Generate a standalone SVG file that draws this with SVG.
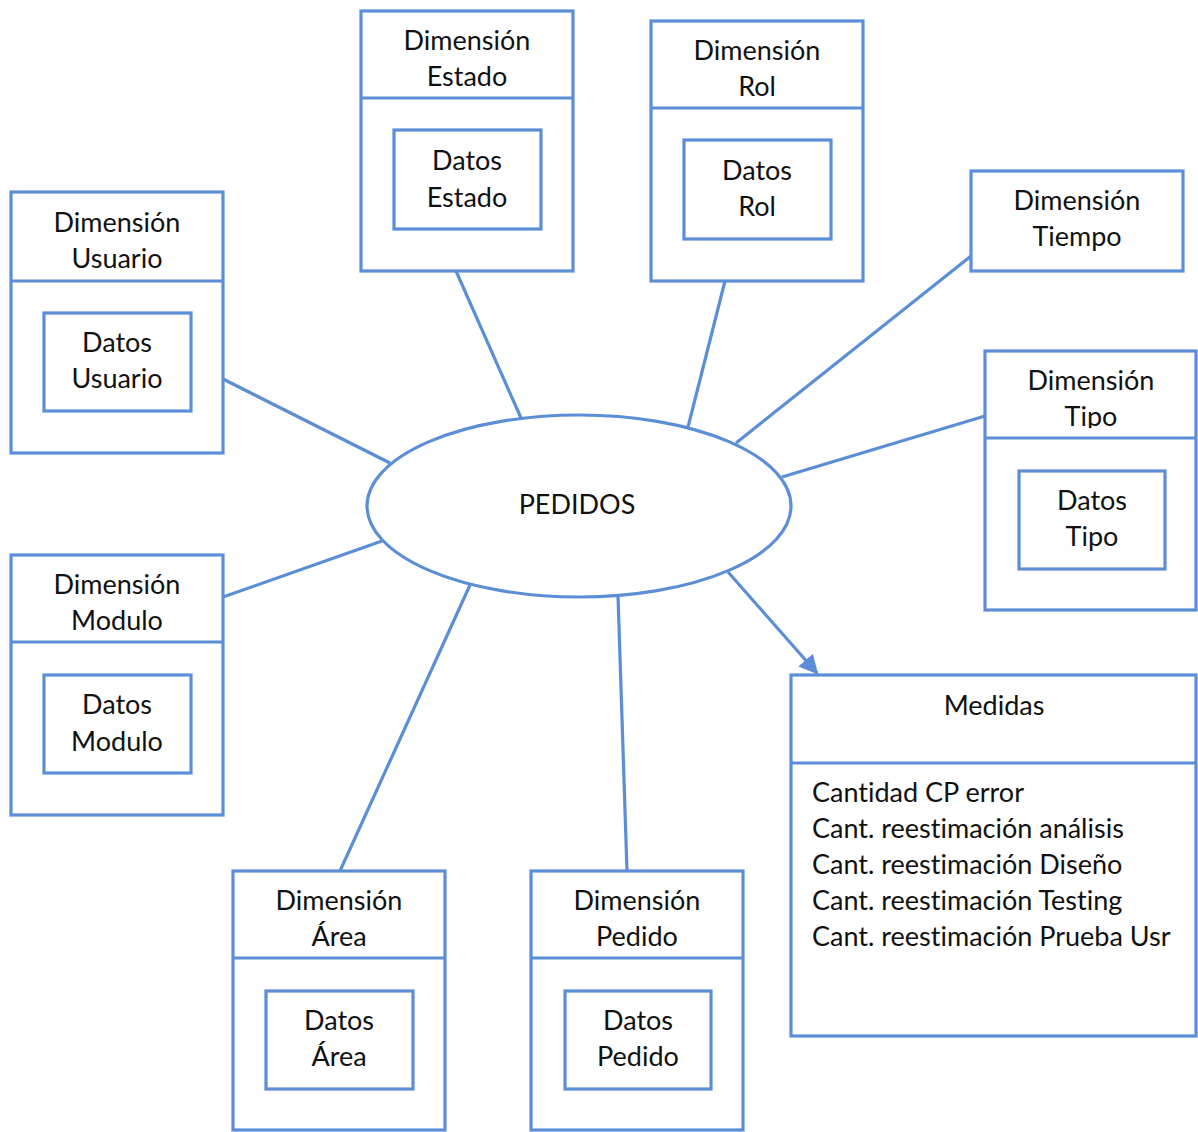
<svg xmlns="http://www.w3.org/2000/svg" width="1198" height="1132" viewBox="0 0 1198 1132">
<defs>
<style>
.b{fill:#fff;stroke:#5B8ED6;stroke-width:3.2}
.l{fill:none;stroke:#5B8ED6;stroke-width:3.2}
text{font-family:Lato,"Open Sans",sans-serif;font-size:27px;fill:#111;font-variant-ligatures:none}
.c{text-anchor:middle}
</style>
<marker id="ah" viewBox="0 0 10 10" refX="9" refY="5" markerWidth="6" markerHeight="6" orient="auto" markerUnits="strokeWidth">
<path d="M0,0L10,5L0,10z" fill="#5B8ED6"/>
</marker>
<clipPath id="tipoclip"><rect x="985" y="351" width="212" height="77"/></clipPath>
</defs>
<rect width="1198" height="1132" fill="#fff"/>
<g id="connectors">
<line class="l" x1="223" y1="379" x2="390" y2="463"/>
<line class="l" x1="456" y1="271" x2="521" y2="418"/>
<line class="l" x1="725" y1="281" x2="688" y2="427"/>
<line class="l" x1="971" y1="256" x2="736" y2="443"/>
<line class="l" x1="985" y1="416" x2="782" y2="477"/>
<line class="l" x1="223" y1="597" x2="382" y2="541"/>
<line class="l" x1="340" y1="871" x2="470" y2="585"/>
<line class="l" x1="627" y1="871" x2="618" y2="596"/>
<line class="l" x1="728" y1="572" x2="817" y2="673" marker-end="url(#ah)"/>
</g>
<g id="pedidos">
<ellipse class="b" cx="579" cy="506" rx="212" ry="91"/>
<text class="c" x="577" y="514">PEDIDOS</text>
</g>
<g id="dim-usuario">
<rect class="b" x="11" y="192" width="212" height="261"/>
<line class="l" x1="11" y1="281" x2="223" y2="281"/>
<rect class="b" x="44" y="313" width="147" height="98"/>
<text class="c" x="117" y="232">Dimensión</text>
<text class="c" x="117" y="268">Usuario</text>
<text class="c" x="117" y="352">Datos</text>
<text class="c" x="117" y="388">Usuario</text>
</g>
<g id="dim-modulo">
<rect class="b" x="11" y="555" width="212" height="260"/>
<line class="l" x1="11" y1="642" x2="223" y2="642"/>
<rect class="b" x="44" y="675" width="147" height="98"/>
<text class="c" x="117" y="594">Dimensión</text>
<text class="c" x="117" y="630">Modulo</text>
<text class="c" x="117" y="714">Datos</text>
<text class="c" x="117" y="751">Modulo</text>
</g>
<g id="dim-estado">
<rect class="b" x="361" y="11" width="212" height="260"/>
<line class="l" x1="361" y1="98" x2="573" y2="98"/>
<rect class="b" x="394" y="130" width="147" height="99"/>
<text class="c" x="467" y="50">Dimensión</text>
<text class="c" x="467" y="86">Estado</text>
<text class="c" x="467" y="170">Datos</text>
<text class="c" x="467" y="207">Estado</text>
</g>
<g id="dim-rol">
<rect class="b" x="651" y="21" width="212" height="260"/>
<line class="l" x1="651" y1="108" x2="863" y2="108"/>
<rect class="b" x="684" y="140" width="147" height="99"/>
<text class="c" x="757" y="60">Dimensión</text>
<text class="c" x="757" y="96">Rol</text>
<text class="c" x="757" y="180">Datos</text>
<text class="c" x="757" y="216">Rol</text>
</g>
<g id="dim-tiempo">
<rect class="b" x="971" y="171" width="212" height="100"/>
<text class="c" x="1077" y="210">Dimensión</text>
<text class="c" x="1077" y="246">Tiempo</text>
</g>
<g id="dim-tipo">
<rect class="b" x="985" y="351" width="211" height="259"/>
<g clip-path="url(#tipoclip)">
<text class="c" x="1091" y="390">Dimensión</text>
<text class="c" x="1091" y="426">Tipo</text>
</g>
<line class="l" x1="985" y1="438" x2="1196" y2="438"/>
<rect class="b" x="1019" y="471" width="146" height="98"/>
<text class="c" x="1092" y="510">Datos</text>
<text class="c" x="1092" y="546">Tipo</text>
</g>
<g id="dim-area">
<rect class="b" x="233" y="871" width="212" height="259"/>
<line class="l" x1="233" y1="958" x2="445" y2="958"/>
<rect class="b" x="266" y="991" width="147" height="98"/>
<text class="c" x="339" y="910">Dimensión</text>
<text class="c" x="339" y="946">Área</text>
<text class="c" x="339" y="1030">Datos</text>
<text class="c" x="339" y="1066">Área</text>
</g>
<g id="dim-pedido">
<rect class="b" x="531" y="871" width="212" height="259"/>
<line class="l" x1="531" y1="958" x2="743" y2="958"/>
<rect class="b" x="565" y="991" width="146" height="98"/>
<text class="c" x="637" y="910">Dimensión</text>
<text class="c" x="637" y="946">Pedido</text>
<text class="c" x="638" y="1030">Datos</text>
<text class="c" x="638" y="1066">Pedido</text>
</g>
<g id="medidas">
<rect class="b" x="791" y="675" width="405" height="361"/>
<line class="l" x1="791" y1="763" x2="1196" y2="763"/>
<text class="c" x="994" y="715">Medidas</text>
<text x="812" y="802">Cantidad CP error</text>
<text x="812" y="838">Cant. reestimación análisis</text>
<text x="812" y="874">Cant. reestimación Diseño</text>
<text x="812" y="910">Cant. reestimación Testing</text>
<text x="812" y="946">Cant. reestimación Prueba Usr</text>
</g>
</svg>
